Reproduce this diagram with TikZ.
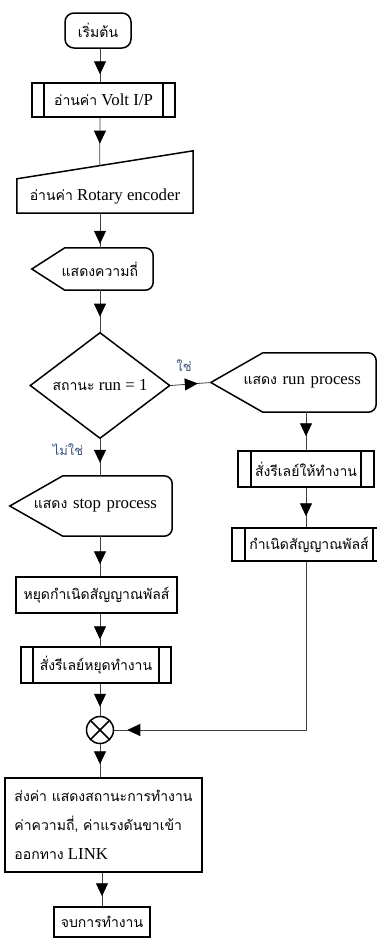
\documentclass[tikz,border=0pt]{standalone}
\usepackage{fontspec}
\setmainfont{Liberation Serif}[Scale=1.2]
\newfontfamily\thaifont[Script=Thai]{Loma}
\usetikzlibrary{shapes.geometric,arrows.meta,decorations.markings,calc}

\definecolor{lblblue}{RGB}{62,82,125}

\tikzset{
  box/.style={draw,line width=1.5pt,inner sep=2pt,font=\fontsize{14}{17}\selectfont},
  subproc/.style={box,path picture={
      \draw[line width=1.5pt]
        ([xshift=#1]path picture bounding box.north west) -- ([xshift=#1]path picture bounding box.south west)
        ([xshift=-#1]path picture bounding box.north east) -- ([xshift=-#1]path picture bounding box.south east);}},
  subproc/.default=12pt,
  showbox/.style={font=\fontsize{14}{17}\selectfont,text width=#1,align=right,inner xsep=15pt,inner ysep=0pt},
  conn/.style={line width=0.8pt,draw=black!75},
  midtip/.style={postaction={decorate},decoration={markings,
      mark=at position -#1 with {\arrow[black]{Triangle[length=13pt,width=12pt]}}}},
  midtip/.default=11pt,
  lbl/.style={text=lblblue,inner sep=0pt,font=\fontsize{13}{15}\selectfont\thaifont}
}

\begin{document}
\begin{tikzpicture}[x=1pt,y=-1pt]
  \useasboundingbox (0,0) rectangle (377,938);

  % left column
  \node[box,rounded corners=9pt,minimum width=66,minimum height=35] (start) at (98,30.5) {\thaifont เริ่มต้น};
  \node[subproc,minimum width=143,minimum height=34] (volt) at (103.5,100) {{\thaifont อ่านค่า} Volt I/P};
  \node[font=\fontsize{14}{17}\selectfont,minimum width=176,minimum height=34,inner sep=0pt] (rotary) at (105,196) {{\thaifont อ่านค่า} Rotary encoder};
  \node[showbox=91pt,minimum height=42] (freq) at (92.5,269) {\thaifont แสดงความถี่};
  \node[box,diamond,inner sep=0pt,minimum width=140,minimum height=105] (dec) at (100,385.5) {{\thaifont สถานะ} run = 1};
  \node[showbox=132pt,minimum height=60] (stop) at (91,506) {{\thaifont แสดง} stop process};
  \node[box,minimum width=161,minimum height=36] (stopgen) at (96.5,595) {\thaifont หยุดกำเนิดสัญญาณพัลส์};
  \node[subproc,minimum width=150,minimum height=36] (relaystop) at (96,665) {\thaifont สั่งรีเลย์หยุดทำงาน};
  \node[draw,circle,line width=1.5pt,minimum size=27,inner sep=0pt,path picture={
      \draw[line width=1.5pt] (path picture bounding box.north west) -- (path picture bounding box.south east)
        (path picture bounding box.north east) -- (path picture bounding box.south west);}] (xcirc) at (100,730) {};
  \node[box,align=left,minimum width=197,minimum height=94,
      font=\fontsize{14}{29}\selectfont] (send) at (103.5,825)
      {{\thaifont ส่งค่า แสดงสถานะการทำงาน}\\{\thaifont ค่าความถี่, ค่าแรงดันขาเข้า}\\{\thaifont ออกทาง} LINK};
  \node[box,minimum width=96,minimum height=30] (endbox) at (102,922) {\thaifont จบการทำงาน};

  % right column
  \node[showbox=135pt,minimum height=59] (run) at (293.5,382.5) {{\thaifont แสดง} run process};
  \node[subproc=13pt,minimum width=136,minimum height=36] (relayon) at (306,469) {\thaifont สั่งรีเลย์ให้ทำงาน};
  \node[subproc=13pt,minimum width=154,minimum height=33] (pulse) at (309,544.5) {\thaifont กำเนิดสัญญาณพัลส์};

  % outlines
  \draw[line width=1.5pt] (rotary.south west) -- (rotary.north west)
    -- ([yshift=28pt]rotary.north east) -- (rotary.south east) -- cycle;
  \foreach \n/\d in {freq/33pt,run/52pt,stop/53pt}
    \draw[line width=1.5pt] (\n.west) -- ([xshift=\d]\n.north west)
      -- ([xshift=-8pt]\n.north east) arc[start angle=90,end angle=0,radius=8pt]
      -- ([yshift=8pt]\n.south east) arc[start angle=0,end angle=-90,radius=8pt]
      -- ([xshift=\d]\n.south west) -- cycle;
  \coordinate (rotin) at ($(rotary.north west)!0.47!([yshift=28pt]rotary.north east)$);

  % labels
  \node[lbl] (yes) at (184,366) {ใช่};
  \node[lbl] (no) at (68,450) {ไม่ใช่};

  % connectors
  \draw[conn,midtip=8pt] (start.south -| xcirc) -- (volt.north -| xcirc);
  \draw[conn,midtip=22pt] (volt.south -| xcirc) -- (rotin);
  \draw[conn,midtip=4pt] (rotary.south -| xcirc) -- (freq.north -| xcirc);
  \draw[conn,midtip=15pt] (freq.south -| xcirc) -- (dec.north);
  \draw[conn,midtip=13pt] (dec.east) -- (run.west);
  \draw[conn,midtip=13pt] (dec.south) -- (stop.north -| xcirc);
  \draw[conn,midtip=14pt] (run.south -| relayon) -- (relayon.north);
  \draw[conn,midtip=11pt] (relayon.south) -- (pulse.north -| relayon);
  \draw[conn,midtip=13pt] (pulse.south -| relayon) |- (xcirc.east);
  \draw[conn,midtip=12pt] (stop.south -| xcirc) -- (stopgen.north -| xcirc);
  \draw[conn,midtip=7pt] (stopgen.south -| xcirc) -- (relaystop.north -| xcirc);
  \draw[conn,midtip=9pt] (relaystop.south -| xcirc) -- (xcirc.north);
  \draw[conn,midtip=13pt] (xcirc.south) -- (send.north -| xcirc);
  \draw[conn,midtip=10pt] (send.south -| endbox) -- (endbox.north);
\end{tikzpicture}
\end{document}
